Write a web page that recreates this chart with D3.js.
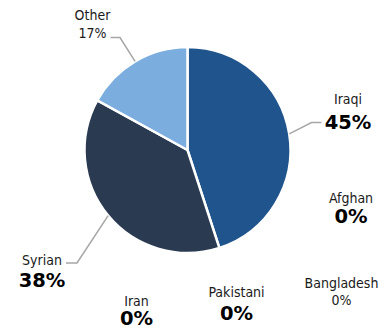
<!DOCTYPE html>
<html>
<head>
<meta charset="utf-8">
<script src="https://cdn.jsdelivr.net/npm/d3@7"></script>
<style>
  html, body { margin: 0; padding: 0; background: #fff; }
  svg { display: block; font-family: "DejaVu Sans", Verdana, sans-serif; }
  .name { font-family: "DejaVu Sans Condensed", "DejaVu Sans", sans-serif; }
</style>
</head>
<body>
<div id="chart"></div>
<script>
// data
const CATEGORIES = ["Iraqi", "Afghan", "Pakistani", "Bangladesh", "Iran", "Syrian", "Other"];
const VALUES = [45, 0, 0, 0, 0, 38, 17];
const PCT_LABELS = ["45%", "0%", "0%", "0%", "0%", "38%", "17%"];
const BOLD_PCT = [true, true, true, false, true, true, false];
const COLORS = ["#1f548c", "#1f548c", "#1f548c", "#1f548c", "#1f548c", "#2a3a51", "#7badde"];

// label layout (centre x, name baseline, pct baseline), plus leader elbow where drawn
const LABEL_LAYOUT = {
  Iraqi:      { x: 348, ny: 104, py: 128.5, elbow: [311.5, 122.5], end: 321.5 },
  Afghan:     { x: 351, ny: 203, py: 223 },
  Pakistani:  { x: 236.5, ny: 296.5, py: 320 },
  Bangladesh: { x: 341.5, ny: 287.5, py: 305 },
  Iran:       { x: 136.5, ny: 305.5, py: 325 },
  Syrian:     { x: 42, ny: 264.5, py: 286.5, elbow: [77, 263], end: 66 },
  Other:      { x: 92.5, ny: 20, py: 37.5, elbow: [120, 37.5], end: 110.5 },
};

const width = 392, height = 329;
const cx = 187.5, cy = 150, radius = 103;

const svg = d3.select("#chart").append("svg")
  .attr("width", width)
  .attr("height", height)
  .attr("viewBox", [0, 0, width, height]);

const rows = CATEGORIES.map((name, i) => ({
  name, value: VALUES[i], pct: PCT_LABELS[i], bold: BOLD_PCT[i], color: COLORS[i]
}));

const pie = d3.pie().value(d => d.value).sort(null).startAngle(0).endAngle(2 * Math.PI);
const arcs = pie(rows);
const arc = d3.arc().innerRadius(0).outerRadius(radius);
const edge = d3.arc().innerRadius(radius).outerRadius(radius);

const g = svg.append("g").attr("transform", `translate(${cx},${cy})`);

g.selectAll("path.slice")
  .data(arcs.filter(a => a.value > 0))
  .join("path")
  .attr("class", "slice")
  .attr("d", arc)
  .attr("fill", a => a.data.color)
  .attr("stroke", "#fff")
  .attr("stroke-width", 2.5)
  .attr("stroke-linejoin", "miter");

// leader lines: from slice mid-edge to elbow then horizontal to label
arcs.forEach(a => {
  const lay = LABEL_LAYOUT[a.data.name];
  if (!lay.elbow) return;
  const [sx, sy] = edge.centroid(a);
  svg.append("polyline")
    .attr("points", [[cx + sx, cy + sy], lay.elbow, [lay.end, lay.elbow[1]]].map(p => p.join(",")).join(" "))
    .attr("fill", "none")
    .attr("stroke", "#a6a6a6")
    .attr("stroke-width", 1.5);
});

// labels
const labels = svg.append("g").attr("text-anchor", "middle");
rows.forEach(d => {
  const lay = LABEL_LAYOUT[d.name];
  labels.append("text")
    .attr("class", "name")
    .attr("x", lay.x)
    .attr("y", lay.ny)
    .attr("font-size", "14px")
    .attr("fill", "#1a1a1a")
    .text(d.name);
  labels.append("text")
    .attr("class", d.bold ? null : "name")
    .attr("x", lay.x)
    .attr("y", lay.py)
    .attr("font-size", d.bold ? "19.5px" : "14px")
    .attr("font-weight", d.bold ? "bold" : "normal")
    .attr("fill", d.bold ? "#000" : "#1a1a1a")
    .text(d.pct);
});
</script>
</body>
</html>
